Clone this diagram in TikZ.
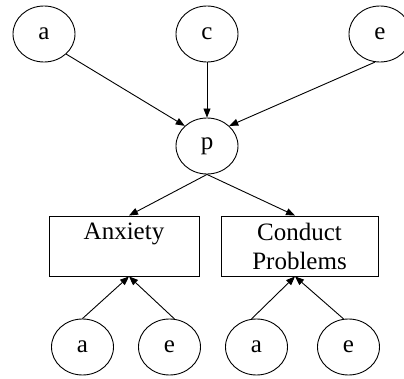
\documentclass[tikz,border=0pt]{standalone}
\usepackage{fontspec}
\setmainfont{Liberation Serif}
\usetikzlibrary{shapes.geometric,arrows.meta}
\begin{document}
\begin{tikzpicture}[x=1pt,y=-1pt,
  latent/.style={ellipse,draw,line width=0.9pt,minimum width=62pt,minimum height=56pt,inner sep=0pt,font=\fontsize{25}{29}\selectfont},
  obs/.style={rectangle,draw,line width=0.9pt,minimum width=150pt,minimum height=60pt,inner sep=0pt,align=center,font=\fontsize{25}{29}\selectfont},
  arr/.style={line width=0.9pt,-{Triangle[length=9pt,width=7pt]}}]
\useasboundingbox (0,0) rectangle (404,379);
\begin{scope}
\clip (0,0) rectangle (404,379);
\node[latent] (ta) at (44,34) {a};
\node[latent] (tc) at (207,34) {c};
\node[latent] (te) at (380,34) {e};
\node[latent] (p) at (207,146) {p};
\node[obs] (anx) at (124,246) {Anxiety\\\phantom{Problems}};
\node[obs,minimum width=157pt] (cp) at (299.5,246) {Conduct\\Problems};
\node[latent] (a1) at (82.5,347) {a};
\node[latent] (e1) at (169.5,347) {e};
\node[latent] (a2) at (256.5,347) {a};
\node[latent] (e2) at (348.5,347) {e};
\end{scope}
\draw[arr] (ta.south east) -- (p.north west);
\draw[arr] (tc.south) -- (p.north);
\draw[arr] (te.-100) -- (p.north east);
\draw[arr] (p.south) -- ([xshift=5pt]anx.north);
\draw[arr] (p.south) -- ([xshift=-4.5pt]cp.north);
\draw[arr] (a1.north) -- ([xshift=5pt]anx.south);
\draw[arr] (e1.80) -- ([xshift=5pt]anx.south);
\draw[arr] (a2.100) -- ([xshift=-4.5pt]cp.south);
\draw[arr] (e2.100) -- ([xshift=-4.5pt]cp.south);
\end{tikzpicture}
\end{document}
